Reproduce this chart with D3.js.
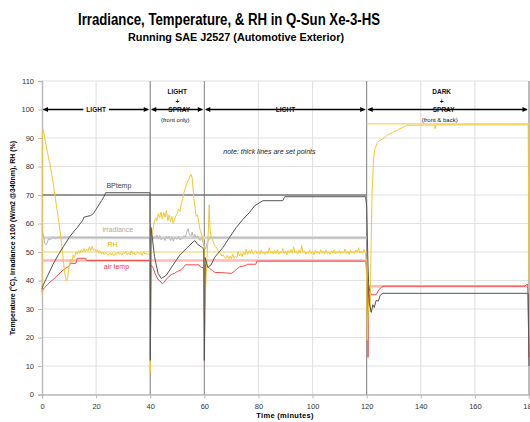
<!DOCTYPE html>
<html>
  <head>
    <meta charset='utf-8' />
    <title>Irradiance, Temperature, & RH</title>
    <style>
      body { margin: 0; background: white; }
      svg { display: block; font-family: "Liberation Sans", Arial, sans-serif; }
      .grid line { stroke: #e2e2e2; stroke-width: 1.2; }
      .axis path, .axis line { stroke: #bbb; }
      .axis text { font-size: 7.5px; fill: #333; }
      .phase { font-size: 6.5px; font-weight: bold; fill: #111; }
      .note { font-size: 6px; fill: #111; }
    </style>
  </head>
<body>
  <svg id="chart" width="530" height="422"></svg>

  <script src="https://d3js.org/d3.v7.min.js"></script>
  <script>
    // phases of the J2527 cycle
    const phaseStart = [0, 40, 60, 120];
    const phaseEnd = [40, 60, 120, 180];
    const phaseLabel = ["LIGHT", "SPRAY", "LIGHT", "SPRAY"];
    const phaseTop = ["", "LIGHT", "", "DARK"];
    const phaseNote = ["", "(front only)", "", "(front & back)"];

    const xTicks = [0, 20, 40, 60, 80, 100, 120, 140, 160, 180];
    const yTicks = [0, 10, 20, 30, 40, 50, 60, 70, 80, 90, 100, 110];

    // set points (thick lines)
    const bpSet = [[0, 70], [120, 70]];
    const irrSet = [[0, 55], [120, 55]];
    const rhSetLight = [[0, 50], [120, 50]];
    const rhSetDark = [[120, 95], [180, 95]];
    const airSetLight = [[0, 47], [120, 47]];
    const airSetDark = [[120, 38], [180, 38]];

    // measured: [minutes, value]
    const bpTemp = [[0,37],[0.5,38.5],[2,41.5],[4,45.5],[6,49],[8,52],[10,55],[12,57.5],[13,58.5],[14,59.8],[15,61],
      [15.5,62.2],[18,62.8],[19,63.5],[20,65],[21,66.5],[22,68],[23,69.6],[23.5,70.8],[39.9,70.8],[40.05,12],[40.3,58.6],
      [41.6,48.3],[42.9,42.5],[44.1,40.7],[46,41.9],[48.4,45.4],[50.9,48.9],[53.3,51.2],[55.8,53.5],[56.5,54],[57.6,52.6],
      [58.9,51.8],[59.8,51],[60,12],[60.3,48],[61.3,44.6],[62.5,45.5],[63.8,48.1],[66.9,51.6],[69.3,55.1],[71.8,58.6],
      [74.3,61.5],[76.7,63.9],[78.6,66.2],[81.6,68],[89,68],[89.7,69.4],[119.6,69.4],[120,66],[120.5,45],[121,32],
      [121.7,28.8],[122.3,31.5],[122.8,30.5],[123.5,33],[124.3,32.8],[125,34.8],[126,35.5],[179.7,35.5],[180,10]];

    const irradiance = [[0,57.5],[0.5,56],[1,53],[1.5,52.5],[2,53.5],[2.5,54.8],[3,54.2],[4,55.3],[5,54.8],[6,55.2],
      [39.8,55],[40,52],[40.3,56.5],[41,54.5],[41.5,55.5],[42,54.8],[42.5,56],[43,54.5],[43.5,55.8],[44,54.3],[45,55],
      [45.5,54],[46,55.5],[46.5,54.7],[47,55.6],[47.5,54],[48,55.2],[48.5,53.8],[49,55],[50,54.5],[50.5,55.5],[51,54.2],
      [52,55],[52.5,55.8],[53,55.2],[53.5,57],[54,58.2],[54.5,56],[55,55.5],[55.5,57],[56,55],[56.5,56.2],[57,55],
      [57.5,55.7],[58,54.6],[58.5,54],[59,55],[59.5,53.5],[60,52],[60.5,51],[61,53],[62,55],[120,55]];

    const rh = [[0,35],[0.1,92],[0.4,93],[1,90],[2,85],[3,80.5],[4,75],[5,68.5],[6,62],[7,55],[8,46],[8.5,42],[9,39.8],
      [9.5,41],[10,45],[10.5,47.5],[11,46],[11.5,49],[12,48],[12.5,50],[13,49.2],[13.5,50.5],[14,49.5],[14.5,50.8],[15,50],
      [15.5,51.2],[16,50.2],[16.5,51],[17,50.4],[17.5,51.8],[18,50.5],[18.5,52],[19,50.6],[19.5,51],[20,50.2],[20.5,50.8],
      [21,49.6],[21.5,50.4],[22,49.3],[22.5,49.9],[23,49.1],[23.5,49.8],[24,49.2],[24.5,48.9],[25,49.6],[25.5,49],[26,49.7],
      [26.5,48.8],[27,49.5],[27.5,49.1],[28,50],[28.5,49.2],[29,49.6],[29.5,48.9],[30,49.8],[30.5,49.3],[31,50.2],
      [31.5,49.1],[32,49.7],[32.5,49],[33,50.5],[33.5,49.2],[34,49.8],[34.5,48.9],[35,49.5],[35.5,50],[36,49.2],
      [36.5,49.7],[37,48.8],[37.5,50.1],[38,49.3],[38.5,49.6],[39,49],[39.5,49.5],[39.9,49.2],[40.05,7.5],[40.3,52],
      [40.6,56],[41,58],[41.5,60.5],[42,62],[42.5,61],[43,63.5],[43.5,62],[44,64],[44.5,61.5],[45,63.8],[45.5,62.2],
      [46,64.5],[46.5,61],[47,63],[47.5,60.5],[48,62.5],[48.5,60],[49,61.5],[49.5,62.8],[50,63.5],[50.5,65],[51,64.2],
      [51.5,67],[52,68.5],[52.5,71],[53,72.5],[53.5,74],[54,75],[54.5,76],[55,77.3],[55.5,76],[56,70],[56.5,66],[57,62.5],
      [57.5,63],[58,60],[58.5,57.5],[59,56.2],[59.5,54],[59.9,52],[60.1,29.5],[60.5,38],[61,48],[61.5,58],[61.8,66.5],
      [62.1,58],[62.5,55],[63,54.5],[63.5,53],[64,52],[64.5,51.5],[65,50.5],[65.5,50],[66,49.3],[66.5,48.6],[67,49],
      [67.5,48],[68,47.8],[68.5,48.8],[69,47.5],[69.5,48.6],[70,47.6],[70.5,49.2],[71,47.8],[71.5,48.5],[72,48],
      [72.5,50.2],[73,48.6],[73.5,49.5],[74,48.4],[74.5,50],[75,49],[75.5,51],[76,49.2],[76.5,50.4],[77,49.5],[77.5,50.8],
      [78,49.3],[78.5,49.9],[79,50.5],[79.5,49.4],[80,50.1],[80.5,49.2],[81,50.6],[81.5,49.5],[82,49.9],[82.5,49.1],
      [83,50.3],[83.5,49.4],[84,51.5],[84.5,49.6],[85,50.2],[85.5,49.3],[86,50.6],[86.5,49.5],[87,50.8],[87.5,49.2],
      [88,50.1],[88.5,49.7],[89,51.2],[89.5,49.4],[90,50.3],[90.5,49.1],[91,50.5],[91.5,49.6],[92,50.9],[92.5,49.5],
      [93,51.8],[93.5,49.8],[94,50.2],[94.5,49.3],[95,50.7],[95.5,49.6],[96,52.3],[96.5,49.9],[97,50.4],[97.5,49.2],
      [98,50],[98.5,49.5],[99,50.6],[99.5,49.4],[100,50.2],[100.5,49.1],[101,50.5],[101.5,49.7],[102,50.1],[102.5,49.3],
      [103,50.8],[103.5,49.6],[104,50.2],[104.5,49.4],[105,50.6],[105.5,49.5],[106,49.9],[106.5,49.2],[107,50.4],
      [107.5,49.6],[108,50.8],[108.5,49.3],[109,50.1],[109.5,49.7],[110,50.5],[110.5,49.4],[111,50.2],[111.5,49.6],
      [112,51],[112.5,49.5],[113,50.3],[113.5,49.2],[114,50.6],[114.5,49.7],[115,50.1],[115.5,49.4],[116,50.7],
      [116.5,49.8],[117,51.5],[117.5,49.6],[118,50.3],[118.5,49.5],[119,50.9],[119.6,49.8],[120,40],[120.2,19],
      [120.5,28],[121,35],[121.3,29],[121.6,50],[122,70],[122.5,82],[123,86],[124,88.5],[125,89.2],[126,89.8],
      [127,90.5],[128,91.3],[129,91.6],[130,92.3],[131,92.5],[132,93.2],[133,93.5],[134,94],[135,94.5],[145,94.5],
      [145.3,93.3],[145.6,94.6],[179.7,94.6],[180,40]];

    const airTemp = [[0,36],[0.5,37],[1,37.5],[2,38.5],[3,39.5],[4,40.2],[5,41.2],[6,42],[7,43],[8,43.8],[9,44.5],
      [10,45],[10.5,46],[12.5,46],[13,47.8],[16,47.8],[16.5,47],[39.9,47],[40.05,13],[40.3,45.5],[41,44.5],[42,42],
      [43,40.2],[44,39.5],[44.5,38.8],[45,39.2],[46,40.5],[47,41.5],[48,42.2],[49,42.5],[50,43.2],[51,43.5],[52,44.3],
      [53,45.5],[58,45.5],[58.5,44.8],[59.5,44.5],[59.9,44],[60.05,12],[60.3,45.5],[61,45],[62,44.2],[63,43.5],[64,42.8],
      [66,42.8],[70,42.5],[71,43.2],[72,44],[73,44.8],[75,45.2],[76,45.7],[79,45.7],[79.5,46.8],[119.6,46.8],[120,44],
      [120.3,38],[120.5,13],[120.7,38],[121.3,36],[121.7,35],[123.5,35],[124.5,36.8],[126,38],[178.5,38],[179,38.6],
      [179.5,38.6],[180,13]];

    // label text and where it sits [minutes, value]
    const seriesNames = ["BPtemp", "irradiance", "RH", "air temp"];
    const labelAt = [[28.4, 72.3], [28, 57], [26.1, 51.9], [27.5, 44.1]];

    const svg = d3.select("#chart");
    const xScale = d3.scaleLinear().domain([0, 180]).range([42, 529]);
    const yScale = d3.scaleLinear().domain([0, 110]).range([394.5, 81]);

    // titles (original is set in a narrow face)
    svg.append("text").attr("x", 78).attr("y", 25)
      .attr("textLength", 302).attr("lengthAdjust", "spacingAndGlyphs")
      .style("font-size", "16px").style("font-weight", "bold").text("Irradiance, Temperature, & RH in Q-Sun Xe-3-HS");
    svg.append("text").attr("x", 128).attr("y", 41)
      .attr("textLength", 216).attr("lengthAdjust", "spacingAndGlyphs")
      .style("font-size", "10px").style("font-weight", "bold")
      .text("Running SAE J2527 (Automotive Exterior)");

    // grid
    svg.append("g").attr("class", "grid").selectAll("line")
      .data(yTicks).enter().append("line")
      .attr("x1", xScale(0)).attr("x2", xScale(180))
      .attr("y1", d => yScale(d)).attr("y2", d => yScale(d));
    svg.append("g").attr("class", "grid").selectAll("line")
      .data(xTicks.slice(1)).enter().append("line")
      .attr("x1", d => xScale(d)).attr("x2", d => xScale(d))
      .attr("y1", yScale(0)).attr("y2", yScale(110));

    // axes
    svg.append("g").attr("class", "axis")
      .attr("transform", "translate(0," + yScale(0) + ")")
      .call(d3.axisBottom(xScale).tickValues(xTicks).tickSize(4).tickPadding(5));
    svg.append("g").attr("class", "axis")
      .attr("transform", "translate(" + xScale(0) + ",0)")
      .call(d3.axisLeft(yScale).tickValues(yTicks).tickSize(4).tickPadding(4));
    svg.selectAll(".axis .domain").style("stroke-width", 1.5);

    // phase separators
    svg.append("g").selectAll("line")
      .data(phaseEnd).enter().append("line")
      .attr("x1", d => xScale(d)).attr("x2", d => xScale(d))
      .attr("y1", yScale(0)).attr("y2", yScale(110))
      .attr("stroke", "#888").attr("stroke-width", 1);

    const line = d3.line().x(d => xScale(d[0])).y(d => yScale(d[1]));

    function draw(data, color, width) {
      svg.append("path").datum(data).attr("d", line)
        .attr("fill", "none").attr("stroke", color).attr("stroke-width", width)
        .attr("stroke-linejoin", "round");
    }

    // set points
    draw(irrSet, "#d4d4d4", 3);
    draw(airSetLight, "#ffb8b8", 2.5);
    draw(airSetDark, "#ffb8b8", 2.5);
    draw(rhSetLight, "#f8de70", 1.2);
    draw(rhSetDark, "#f8de70", 1.5);
    draw(bpSet, "#7a7a7a", 1.3);

    // measured
    draw(irradiance, "#b8b8b8", 1);
    draw(airTemp, "#f24c4c", 1);
    draw(rh, "#f2c830", 1);
    draw(bpTemp, "#555", 1);

    // series labels
    const seriesColors = ["#444", "#aaa", "#e0b400", "#f03a3a"];
    svg.append("g").selectAll("text")
      .data(seriesNames).enter().append("text")
      .attr("x", (d, i) => xScale(labelAt[i][0]))
      .attr("y", (d, i) => yScale(labelAt[i][1]))
      .attr("text-anchor", "middle")
      .style("font-size", "7px")
      .attr("fill", (d, i) => seriesColors[i])
      .text(d => d);

    svg.append("text").attr("x", xScale(67)).attr("y", yScale(84.5))
      .style("font-size", "7px").style("font-style", "italic").attr("fill", "#222")
      .text("note: thick lines are set points");

    // phase arrows
    const defs = svg.append("defs");
    defs.append("marker").attr("id", "head").attr("viewBox", "0 0 10 10")
      .attr("refX", 9).attr("refY", 5).attr("markerWidth", 7).attr("markerHeight", 5)
      .attr("markerUnits", "userSpaceOnUse").attr("orient", "auto-start-reverse")
      .append("path").attr("d", "M0,0L10,5L0,10z").attr("fill", "#000");

    const yArrow = yScale(100);
    phaseStart.forEach((s, i) => {
      const x0 = xScale(s) + 1.5, x1 = xScale(phaseEnd[i]) - 2;
      svg.append("line").attr("x1", x0).attr("x2", x1).attr("y1", yArrow).attr("y2", yArrow)
        .attr("stroke", "#000").attr("stroke-width", 1.5)
        .attr("marker-start", "url(#head)").attr("marker-end", "url(#head)");
      const cx = i === 3 ? xScale(s) + 77 : (xScale(s) + xScale(phaseEnd[i])) / 2 + (i === 1 ? 2 : 0);
      const t = svg.append("text").attr("class", "phase").attr("x", cx).attr("y", yArrow + 2.3)
        .attr("text-anchor", "middle").text(phaseLabel[i]);
      const bb = t.node().getBBox();
      svg.insert("rect", "text.phase").attr("x", bb.x - 3).attr("y", bb.y).attr("width", bb.width + 6)
        .attr("height", bb.height).attr("fill", "white");
      if (phaseTop[i]) {
        svg.append("text").attr("class", "phase").attr("x", cx - 2).attr("y", yArrow - 16)
          .attr("text-anchor", "middle").text(phaseTop[i]);
        svg.append("text").attr("class", "phase").attr("x", cx - 2).attr("y", yArrow - 6)
          .attr("text-anchor", "middle").text("+");
        svg.append("text").attr("class", "note").attr("x", cx - 4).attr("y", yArrow + 12)
          .attr("text-anchor", "middle").text(phaseNote[i]);
      }
    });

    // axis titles
    svg.append("text").attr("x", 285).attr("y", 418).attr("text-anchor", "middle")
      .style("font-size", "7.5px").style("font-weight", "bold").style("letter-spacing", "0.3px")
      .text("Time (minutes)");
    svg.append("text").attr("transform", "translate(15,238) rotate(-90)").attr("text-anchor", "middle")
      .style("font-size", "7px").style("font-weight", "bold")
      .text("Temperature (°C), Irradiance x100 (W/m2 @340nm), RH (%)");
  </script>
</body>
</html>
